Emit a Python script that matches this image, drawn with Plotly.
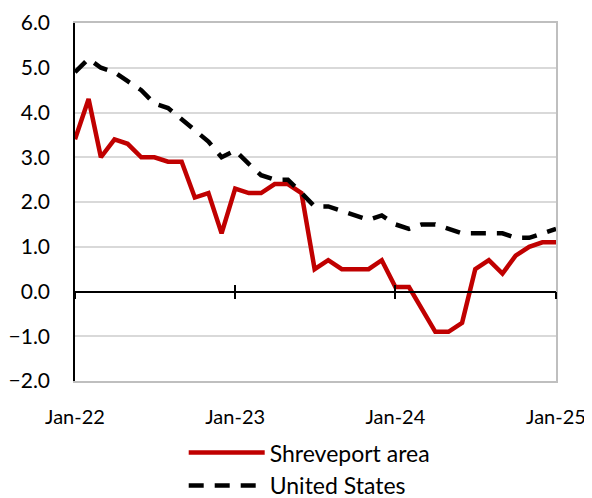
import plotly.graph_objects as go
import pandas as pd

months = pd.date_range("2022-01-01", "2025-01-01", freq="MS")
shreveport = [3.4, 4.3, 3.0, 3.4, 3.3, 3.0, 3.0, 2.9, 2.9, 2.1, 2.2, 1.3,
              2.3, 2.2, 2.2, 2.4, 2.4, 2.2, 0.5, 0.7, 0.5, 0.5, 0.5, 0.7,
              0.1, 0.1, -0.4, -0.9, -0.9, -0.7, 0.5, 0.7, 0.4, 0.8, 1.0, 1.1, 1.1]
united_states = [4.9, 5.2, 5.0, 4.9, 4.7, 4.5, 4.2, 4.1, 3.85, 3.6, 3.35, 3.0,
                 3.15, 2.85, 2.6, 2.5, 2.5, 2.2, 1.9, 1.9, 1.8, 1.7, 1.6, 1.7,
                 1.5, 1.4, 1.5, 1.5, 1.4, 1.3, 1.3, 1.3, 1.3, 1.2, 1.2, 1.3, 1.4]
tick_dates = ["2022-01-01", "2023-01-01", "2024-01-01", "2025-01-01"]
tick_labels = ["Jan-22", "Jan-23", "Jan-24", "Jan-25"]
y_ticks = [-2, -1, 0, 1, 2, 3, 4, 5, 6]

FONT = "Lato"
fig = go.Figure()
xr = [months[0], months[-1]]
# invisible helper traces so the overlay axes are rendered
fig.add_trace(go.Scatter(x=[months[0]], y=[None], xaxis="x2", yaxis="y",
                         showlegend=False, hoverinfo="skip"))
fig.add_trace(go.Scatter(x=[months[0]], y=[None], xaxis="x3", yaxis="y",
                         showlegend=False, hoverinfo="skip"))
fig.add_trace(go.Scatter(x=[months[0]], y=[None], xaxis="x", yaxis="y2",
                         showlegend=False, hoverinfo="skip"))
fig.add_trace(go.Scatter(x=months, y=shreveport, mode="lines", name="Shreveport area",
                         line=dict(color="#C00000", width=4.5)))
fig.add_trace(go.Scatter(x=months, y=united_states, mode="lines", name="United States",
                         line=dict(color="#000000", width=4.5, dash="15px,11px")))
fig.update_layout(
    width=584, height=490,
    margin=dict(l=67, r=36, t=15, b=117, autoexpand=False),
    paper_bgcolor="white", plot_bgcolor="white",
    font=dict(family=FONT, size=21, color="#000000"),
    showlegend=True,
    legend=dict(x=0.226, xanchor="left", y=-0.140, yanchor="top",
                font=dict(family=FONT, size=23), itemwidth=76,
                tracegroupgap=0, bgcolor="rgba(0,0,0,0)"),
    xaxis=dict(range=xr, tickvals=tick_dates, ticktext=tick_labels, automargin=False,
               showgrid=False, zeroline=False, showline=True, linecolor="#bfbfbf",
               linewidth=1.5, mirror=True, ticklabeloverflow="allow",
               ticks="outside", ticklen=17, tickcolor="rgba(0,0,0,0)",
               tickfont=dict(family=FONT, size=20)),
    xaxis2=dict(range=xr, overlaying="x", anchor="free", position=0.25, automargin=False,
                tickvals=tick_dates, showticklabels=False, showgrid=False,
                zeroline=False, showline=True, linecolor="#000000", linewidth=1.5,
                ticks="outside", ticklen=7, tickwidth=1.5, tickcolor="#000000"),
    xaxis3=dict(range=xr, overlaying="x", anchor="free", position=0.25, automargin=False,
                tickvals=tick_dates, showticklabels=False, showgrid=False,
                zeroline=False, showline=False,
                ticks="inside", ticklen=7, tickwidth=1.5, tickcolor="#000000"),
    yaxis=dict(range=[-2, 6], tickvals=y_ticks, tickformat=".1f", automargin=False,
               showgrid=True, gridcolor="#d9d9d9", gridwidth=1.5, zeroline=False,
               showline=True, linecolor="#bfbfbf", linewidth=1.5, mirror=True,
               ticklabeloverflow="allow",
               ticks="outside", ticklen=19, tickcolor="rgba(0,0,0,0)",
               tickfont=dict(family=FONT, size=21)),
    yaxis2=dict(range=[-2, 6], overlaying="y", side="left", anchor="x", automargin=False,
                showticklabels=False, showgrid=False, zeroline=False,
                showline=True, linecolor="#000000", linewidth=1.5),
)
fig.write_html("out.html")
